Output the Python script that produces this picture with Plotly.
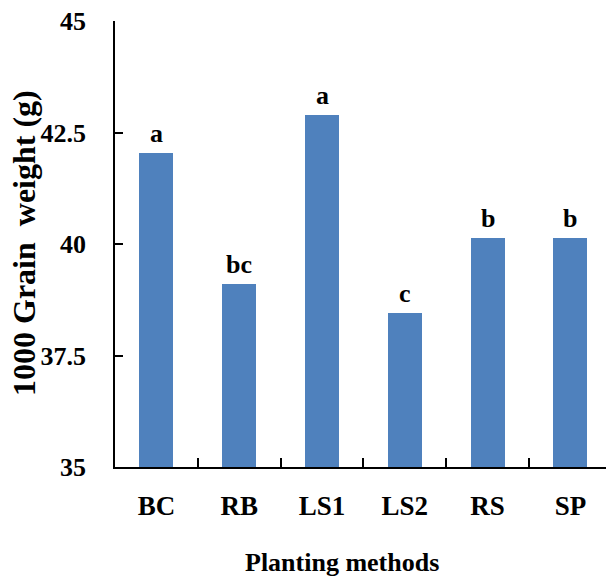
import plotly.graph_objects as go

# Planting methods and their 1000-grain weight (g)
methods = ["BC", "RB", "LS1", "LS2", "RS", "SP"]
grain_weight = [42.03, 39.10, 42.89, 38.46, 40.14, 40.14]
letters = ["a", "bc", "a", "c", "b", "b"]

y_ticks = [35, 37.5, 40, 42.5, 45]
y_tick_text = ["35", "37.5", "40", "42.5", "45"]

serif = "Liberation Serif, Times New Roman, serif"
bar_color = "#4F81BD"

fig = go.Figure()
fig.add_trace(go.Bar(
    x=methods,
    y=grain_weight,
    marker=dict(color=bar_color, line=dict(width=0)),
    width=0.41,
    hoverinfo="x+y",
))

# significance letters above each bar
for m, v, t in zip(methods, grain_weight, letters):
    fig.add_annotation(
        x=m, y=v, text=t, showarrow=False,
        xanchor="center", yanchor="bottom", yshift=3,
        font=dict(family=serif, size=26, color="black", weight="bold"),
    )

# axis titles
fig.add_annotation(
    xref="paper", yref="paper", x=(342 - 115) / 491, y=-(562 - 467) / 446,
    text="Planting methods", showarrow=False,
    xanchor="center", yanchor="middle",
    font=dict(family=serif, size=26, color="black", weight="bold"),
)
fig.add_annotation(
    xref="paper", yref="paper", x=-(115 - 24) / 491, y=(467 - 243) / 446,
    text="1000 Grain  weight (g)", showarrow=False, textangle=-90,
    xanchor="center", yanchor="middle",
    font=dict(family=serif, size=32, color="black", weight="bold"),
)

fig.update_layout(
    width=606, height=586,
    margin=dict(l=115, r=0, t=21, b=119, pad=0),
    paper_bgcolor="white", plot_bgcolor="white",
    showlegend=False,
    bargap=0,
    xaxis=dict(
        type="category",
        range=[-0.5, 5.43],
        showline=True, linecolor="black", linewidth=1.5,
        ticks="inside", tickson="boundaries", ticklen=9, tickwidth=1.5, tickcolor="black",
        showgrid=False, zeroline=False,
        tickfont=dict(family=serif, size=27, color="black", weight="bold"),
        ticklabelstandoff=14,
    ),
    yaxis=dict(
        range=[35, 45],
        tickvals=y_ticks, ticktext=y_tick_text,
        showline=True, linecolor="black", linewidth=1.5,
        ticks="inside", ticklen=8, tickwidth=1.5, tickcolor="black",
        showgrid=False, zeroline=False,
        tickfont=dict(family=serif, size=26, color="black", weight="bold"),
        ticklabelstandoff=22,
    ),
)

fig.write_html("out.html")
